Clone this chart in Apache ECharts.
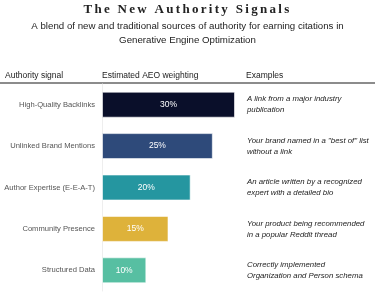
<!DOCTYPE html>
<html>
<head>
<meta charset="utf-8">
<script src="https://cdn.jsdelivr.net/npm/echarts@6/dist/echarts.min.js"></script>
<style>html,body{margin:0;padding:0;background:#fff;}#c{width:375px;height:298px;}</style>
</head>
<body>
<div id="c"></div>
<script>
const titleText = 'The New Authority Signals';
const subtitleText = 'A blend of new and traditional sources of authority for earning citations in\nGenerative Engine Optimization';
const categories = ['High-Quality Backlinks', 'Unlinked Brand Mentions', 'Author Expertise (E-E-A-T)', 'Community Presence', 'Structured Data'];
const weights = [30, 25, 20, 15, 10];
const examples = [
  'A link from a major industry\npublication',
  'Your brand named in a "best of" list\nwithout a link',
  'An article written by a recognized\nexpert with a detailed bio',
  'Your product being recommended\nin a popular Reddit thread',
  'Correctly implemented\nOrganization and Person schema'
];
const colors = ['#0a0f2a', '#2e4a7a', '#2596a0', '#deb23a', '#57bfa2'];
const headers = ['Authority signal', 'Estimated AEO weighting', 'Examples'];

// letter-spaced serif title (canvas letterSpacing), other text untouched
const origFill = CanvasRenderingContext2D.prototype.fillText;
CanvasRenderingContext2D.prototype.fillText = function (t, x, y, m) {
  const f = this.font;
  const want = f.indexOf('Liberation Serif') >= 0 ? '2.3px' : '0px';
  if ('letterSpacing' in this && this.letterSpacing !== want) {
    this.letterSpacing = want;
    this.font = '10px serif';
    this.font = f;
  }
  origFill.call(this, t, x, y, m);
};

// pick a narrow sans if installed
const mctx = document.createElement('canvas').getContext('2d');
function w(font) { mctx.font = font; return mctx.measureText('High-Quality Backlinks abcdefg').width; }
let sans = '"Liberation Sans", Arial, sans-serif';
let k = 1;
const wMono = w('20px monospace');
const wNarrow = w('20px "Liberation Sans Narrow", monospace');
if (Math.abs(wNarrow - wMono) > 0.5) {
  k = w('20px "Liberation Sans"') / wNarrow;
  sans = '"Liberation Sans Narrow", "Liberation Sans", sans-serif';
}
const fs = s => Math.round(s * k * 10) / 10;

const chart = echarts.init(document.getElementById('c'), null, {renderer: 'canvas'});
chart.setOption({
  animation: false,
  grid: {left: 102, right: 140, top: 84, bottom: 7, containLabel: false, outerBoundsMode: 'none'},
  xAxis: {type: 'value', min: 0, max: 30, show: false},
  yAxis: [{
    type: 'category', data: categories, inverse: true,
    axisLine: {show: true, lineStyle: {color: '#eeeeee', width: 1}},
    axisTick: {show: false},
    axisLabel: {fontFamily: sans, fontSize: fs(7.6), color: '#555', margin: 7}
  }, {
    type: 'category', data: examples, inverse: true, position: 'right',
    axisLine: {show: false}, axisTick: {show: false},
    axisLabel: {fontFamily: sans, fontStyle: 'italic', fontSize: fs(7.8), color: '#222', margin: 12, align: 'left', lineHeight: 11}
  }],
  graphic: [
    {type: 'text', x: 187.5, y: 3, style: {text: titleText, font: 'bold 13px "Liberation Serif", serif', fill: '#222', textAlign: 'center', textVerticalAlign: 'top'}},
    {type: 'text', x: 187.5, y: 19, style: {text: subtitleText, font: fs(9.7) + 'px ' + sans, fill: '#222', textAlign: 'center', textVerticalAlign: 'top', lineHeight: 14}},
    {type: 'line', shape: {x1: 0, y1: 83, x2: 375, y2: 83}, style: {stroke: '#666', lineWidth: 1.5}},
    {type: 'text', x: 5, y: 76, style: {text: headers[0], font: fs(8.5) + 'px ' + sans, fill: '#222', textVerticalAlign: 'middle'}},
    {type: 'text', x: 102, y: 76, style: {text: headers[1], font: fs(8.5) + 'px ' + sans, fill: '#222', textVerticalAlign: 'middle'}},
    {type: 'text', x: 246, y: 76, style: {text: headers[2], font: fs(8.5) + 'px ' + sans, fill: '#222', textVerticalAlign: 'middle'}}
  ],
  series: [{
    type: 'bar',
    data: weights.map((v, i) => ({value: v, itemStyle: {color: colors[i]}})),
    barWidth: 26,
    itemStyle: {borderColor: 'rgba(255,255,255,0.6)', borderWidth: 1},
    label: {show: true, position: 'inside', formatter: '{c}%', color: '#fff', fontFamily: sans, fontSize: fs(8.5)}
  }]
});
</script>
</body>
</html>
